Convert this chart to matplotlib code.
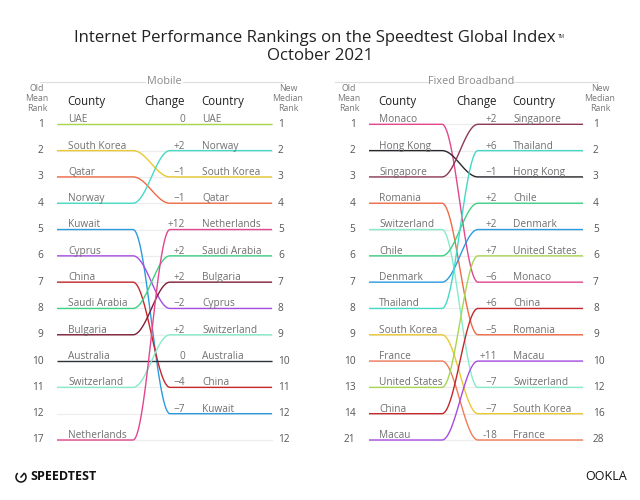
import matplotlib.pyplot as plt
import numpy as np
from matplotlib.patches import Arc

plt.rcParams["font.family"] = ["Open Sans", "DejaVu Sans"]

# Mobile rankings (old order -> new order)
mobile_old = ["UAE", "South Korea", "Qatar", "Norway", "Kuwait", "Cyprus", "China",
              "Saudi Arabia", "Bulgaria", "Australia", "Switzerland", "", "Netherlands"]
mobile_old_rank = [1, 2, 3, 4, 5, 6, 7, 8, 9, 10, 11, 12, 17]
mobile_new = ["UAE", "Norway", "South Korea", "Qatar", "Netherlands", "Saudi Arabia",
              "Bulgaria", "Cyprus", "Switzerland", "Australia", "China", "Kuwait", ""]
mobile_new_rank = [1, 2, 3, 4, 5, 6, 7, 8, 9, 10, 11, 12, 12]
mobile_change = ["0", "+2", "\u22121", "\u22121", "+12", "+2", "+2", "\u22122", "+2",
                 "0", "\u22124", "\u22127", ""]
mobile_colors = {
    "UAE": "#a9d651", "South Korea": "#e9c834", "Qatar": "#ef6a45", "Norway": "#45d9c6",
    "Kuwait": "#2b9be0", "Cyprus": "#a64de0", "China": "#c4272c", "Saudi Arabia": "#3fd084",
    "Bulgaria": "#7f1f36", "Australia": "#2f3236", "Switzerland": "#86ebcb",
    "Netherlands": "#e2468f",
}

# Fixed broadband rankings
fixed_old = ["Monaco", "Hong Kong", "Singapore", "Romania", "Switzerland", "Chile", "Denmark",
             "Thailand", "South Korea", "France", "United States", "China", "Macau"]
fixed_old_rank = [1, 2, 3, 4, 5, 6, 7, 8, 9, 10, 13, 14, 21]
fixed_new = ["Singapore", "Thailand", "Hong Kong", "Chile", "Denmark", "United States",
             "Monaco", "China", "Romania", "Macau", "Switzerland", "South Korea", "France"]
fixed_new_rank = [1, 2, 3, 4, 5, 6, 7, 8, 9, 10, 12, 16, 28]
fixed_change = ["+2", "+6", "\u22121", "+2", "+2", "+7", "\u22126", "+6", "\u22125", "+11",
                "\u22127", "\u22127", "-18"]
fixed_colors = {
    "Monaco": "#e2468f", "Hong Kong": "#26282c", "Singapore": "#8c3a55", "Romania": "#ef6a45",
    "Switzerland": "#86ebcb", "Chile": "#3fd084", "Denmark": "#2b9be0", "Thailand": "#45d9c6",
    "South Korea": "#e9c834", "France": "#f07a58", "United States": "#a9d651",
    "China": "#c4272c", "Macau": "#a64de0",
}

fig = plt.figure(figsize=(6.4, 5), dpi=100)
bg = fig.add_axes([0, 0, 1, 1])
bg.set_xlim(0, 640)
bg.set_ylim(500, 0)
bg.axis("off")

step = (440 - 124.3) / 12
top = 124.3 - step / 2
bot = 440 + step / 2
ax = fig.add_axes([0, 1 - bot / 500, 1, (bot - top) / 500])
ax.set_xlim(0, 640)
ax.set_ylim(12.5, -0.5)
ax.axis("off")
ax.patch.set_alpha(0)

label_c = "#707070"
dark = "#222222"


def bump(y0, y1, x0, xa, xb, x1):
    t = np.linspace(0, 1, 60)
    s = 0.5 - 0.5 * np.cos(np.pi * t)
    xs = np.concatenate([[x0], xa + (xb - xa) * t, [x1]])
    ys = np.concatenate([[y0], y0 + (y1 - y0) * s, [y1]])
    return xs, ys


def panel(old, old_rank, new, new_rank, change, colors, lay, title, title_x, gap):
    x0, xa, xb, x1 = lay["lines"]
    n = len(old)
    for i in range(n):
        ax.plot([x0, x1], [i, i], color="#ececec", lw=0.8, zorder=1)
    for i, c in enumerate(old):
        if not c:
            continue
        j = new.index(c)
        xs, ys = bump(i, j, x0, xa, xb, x1)
        ax.plot(xs, ys, color=colors[c], lw=1.0, zorder=2, solid_capstyle="butt")
    for i in range(n):
        ax.text(lay["old_rank"], i, str(old_rank[i]), ha="right", va="center",
                fontsize=7.3, color="#555555")
        ax.text(lay["new_rank"], i, str(new_rank[i]), ha="left", va="center",
                fontsize=7.3, color="#555555")
        ax.text(lay["old_lab"], i - 0.08, old[i], ha="left", va="baseline",
                fontsize=7.3, color=label_c)
        ax.text(lay["change"], i - 0.08, change[i], ha="right", va="baseline",
                fontsize=7.3, color=label_c)
        ax.text(lay["new_lab"], i - 0.08, new[i], ha="left", va="baseline",
                fontsize=7.3, color=label_c)
    # headers
    bg.text(lay["old_hdr"], 98.5, "Old\nMean\nRank", ha="center", va="center",
            fontsize=6.3, color="#777777", linespacing=1.2)
    bg.text(lay["new_hdr"], 98.5, "New\nMedian\nRank", ha="center", va="center",
            fontsize=6.3, color="#777777", linespacing=1.2)
    bg.text(lay["old_lab"] - 1, 101, "County", ha="left", va="center", fontsize=8.3, color=dark)
    bg.text(lay["change"], 101, "Change", ha="right", va="center", fontsize=8.3, color=dark)
    bg.text(lay["new_lab"] - 1, 101, "Country", ha="left", va="center", fontsize=8.3, color=dark)
    bg.text(title_x, 81.5, title, ha="center", va="center", fontsize=7.8, color="#8a8a8a")
    bg.plot([lay["sec"][0], title_x - gap], [82, 82], color="#dddddd", lw=0.8)
    bg.plot([title_x + gap, lay["sec"][1]], [82, 82], color="#dddddd", lw=0.8)


mobile_lay = {"lines": (57, 133, 170, 272), "old_rank": 43.5, "old_lab": 68, "change": 185,
              "new_lab": 202, "new_rank": 278, "old_hdr": 37, "new_hdr": 288, "sec": (40, 283)}
fixed_lay = {"lines": (369, 442, 478, 583), "old_rank": 355.5, "old_lab": 379, "change": 497,
             "new_lab": 513, "new_rank": 593, "old_hdr": 349, "new_hdr": 600, "sec": (335, 598)}

panel(mobile_old, mobile_old_rank, mobile_new, mobile_new_rank, mobile_change,
      mobile_colors, mobile_lay, "Mobile", 164, 19)
panel(fixed_old, fixed_old_rank, fixed_new, fixed_new_rank, fixed_change,
      fixed_colors, fixed_lay, "Fixed Broadband", 471, 43)

# title
title = bg.text(315, 37.5, "Internet Performance Rankings on the Speedtest Global Index",
                ha="center", va="center", fontsize=12.1, color=dark)
bg.annotate("TM", xy=(1, 1), xycoords=title, xytext=(1.5, -3), textcoords="offset points",
            ha="left", va="top", fontsize=3.5, color=dark)
bg.text(320, 55.5, "October 2021", ha="center", va="center", fontsize=12.1, color=dark)

# footer logos
bg.add_patch(Arc((21, 477), 10, 10, theta1=-50, theta2=230, color="#111111", lw=1.1))
bg.plot([21, 24], [477, 473.5], color="#111111", lw=1.1)
bg.text(30, 477, "SPEEDTEST", ha="left", va="center", fontsize=9, fontweight="bold",
        color="#111111")
bg.text(606, 477, "OOKLA", ha="center", va="center", fontsize=9, color="#111111")

fig.savefig("out.png", dpi=100)
